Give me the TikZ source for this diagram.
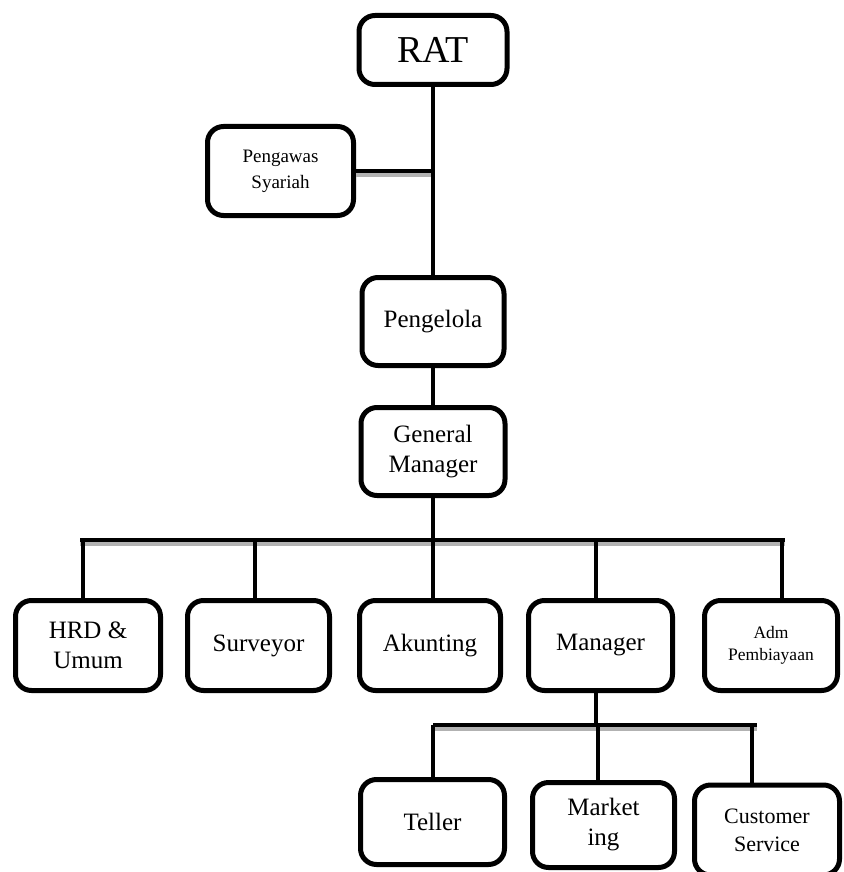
\documentclass[tikz,border=0pt]{standalone}
\usepackage{fontspec}
\setmainfont{Liberation Serif}
\begin{document}
\begin{tikzpicture}[x=1pt,y=-1pt,align=center,
	unit/.style={rectangle,rounded corners=16pt,draw,line width=5pt,inner sep=0pt,font=\fontsize{25}{30}\selectfont},
	link/.style={line width=4.5pt},
	bus/.style={line width=4.5pt,preaction={draw=gray!60,line width=4pt,transform canvas={yshift=-4pt}}}]
	\useasboundingbox (0,0) rectangle (843,872);

	\node[unit,minimum width=148pt,minimum height=69pt,font=\fontsize{38}{44}\selectfont] (rat) at (433,50) {RAT};

	\node[unit,minimum width=146pt,minimum height=89pt,font=\fontsize{19}{26}\selectfont] (pengawas) at (280.5,171) {Pengawas\\Syariah};
		\draw[bus] (pengawas) -- (pengawas -| rat);

	\node[unit,minimum width=142pt,minimum height=88pt] (pengelola) at (433,321.5) {Pengelola};
		\draw[link] (rat) -- (pengelola);

	\node[unit,minimum width=144pt,minimum height=88pt] (gm) at (433,451.5) {General\\Manager};
		\draw[link] (pengelola) -- (gm);

	% baris bagian
	\node[unit,minimum width=145pt,minimum height=90pt] (hrd) at (88,645.5) {HRD \&\\Umum};
	\node[unit,minimum width=142pt,minimum height=90pt] (surveyor) at (258.5,645.5) {Surveyor};
	\node[unit,minimum width=141pt,minimum height=90pt] (akunting) at (430,645.5) {Akunting};
	\node[unit,minimum width=144pt,minimum height=90pt] (manager) at (600.5,645.5) {Manager};
	\node[unit,minimum width=133pt,minimum height=90pt,font=\fontsize{17.5}{22}\selectfont] (adm) at (771,645.5) {Adm\\Pembiayaan};

	\coordinate (busL) at (80,540);
	\coordinate (busR) at (785,540);
		\draw[link] (gm) -- (gm |- busL);
		\draw[bus] (busL) -- (busR);
	\foreach \n/\x in {hrd/83,surveyor/255,akunting/433,manager/596,adm/782}
		\draw[link] (\x,0 |- busL) -- (\x,0 |- \n.north);

	% bawah manager
	\node[unit,minimum width=144pt,minimum height=85pt] (teller) at (432.5,822) {Teller};
	\node[unit,minimum width=142pt,minimum height=85pt] (marketing) at (603.5,825) {Market\\ing};
	\node[unit,minimum width=145pt,minimum height=90pt,font=\fontsize{22}{28}\selectfont] (cs) at (767,830) {Customer\\Service};

	\coordinate (subL) at (433,725);
	\coordinate (subR) at (757,725);
		\draw[link] (596,0 |- manager.south) -- (596,0 |- subL);
		\draw[bus] (subL) -- (subR);
	\foreach \n/\x in {teller/433,marketing/598,cs/752}
		\draw[link] (\x,0 |- subL) -- (\x,0 |- \n.north);
\end{tikzpicture}
\end{document}
